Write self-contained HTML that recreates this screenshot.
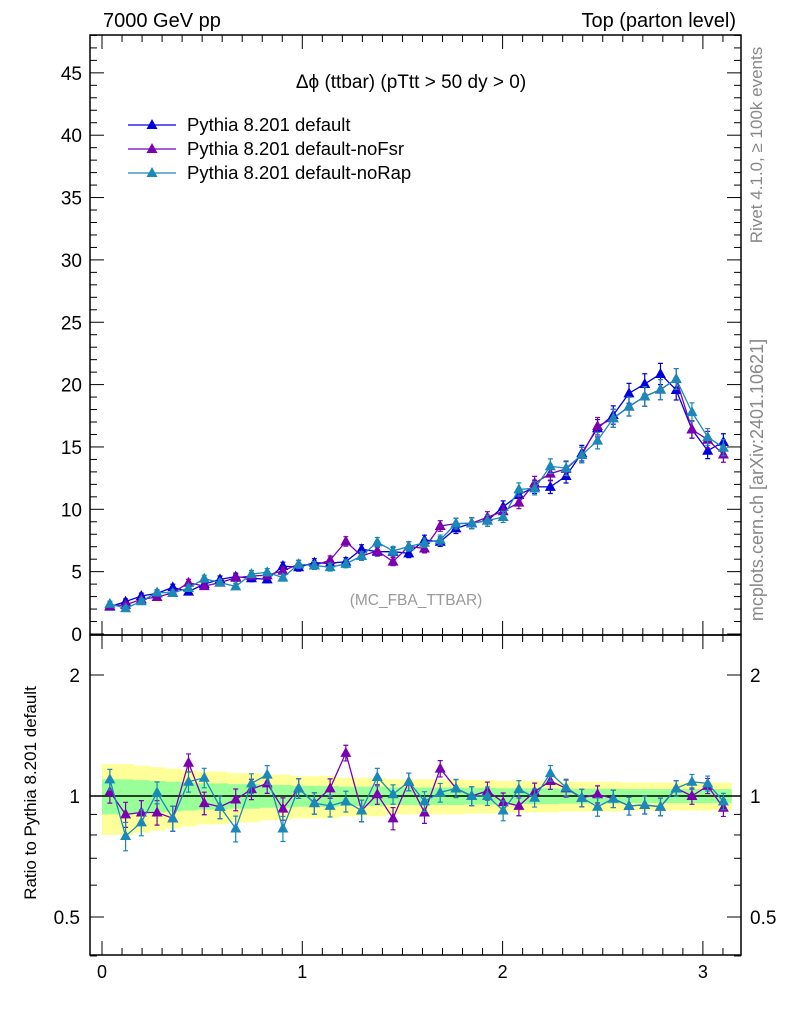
<!DOCTYPE html>
<html><head><meta charset="utf-8"><style>
html,body{margin:0;padding:0;background:#fff;}
svg{display:block;font-family:"Liberation Sans",sans-serif;}
</style></head><body>
<svg id="chart" width="786" height="1024" viewBox="0 0 786 1024" xmlns="http://www.w3.org/2000/svg">
<text x="103" y="27" font-size="20">7000 GeV pp</text>
<text x="736" y="27" font-size="20" text-anchor="end">Top (parton level)</text>
<text transform="translate(762,145) rotate(-90)" font-size="17" fill="#888" text-anchor="middle">Rivet 4.1.0, ≥ 100k events</text>
<text transform="translate(763,480) rotate(-90)" font-size="18" fill="#888" text-anchor="middle">mcplots.cern.ch [arXiv:2401.10621]</text>
<text x="411" y="88" font-size="19" text-anchor="middle">Δϕ (ttbar) (pTtt &gt; 50 dy &gt; 0)</text>
<text x="416" y="605" font-size="15.5" fill="#999" text-anchor="middle">(MC_FBA_TTBAR)</text>
<text transform="translate(36,793) rotate(-90)" font-size="17" text-anchor="middle">Ratio to Pythia 8.201 default</text>
<g id="bands"></g>
<g id="axes"></g>
<g id="marks"></g>
<g id="legend"></g>
</svg>
<script>
const defaultVals=[2.2,2.6,3.05,3.26,3.74,3.4,4.0,4.38,4.6,4.47,4.38,5.45,5.35,5.72,5.67,5.8,6.8,6.6,6.6,6.47,7.54,7.4,8.47,8.88,9.09,10.2,11.15,11.8,11.8,12.67,14.5,16.5,17.56,19.3,20.05,20.85,19.57,16.4,14.7,15.4];
const ratioNoFsr=[1.025,0.9,0.91,0.91,0.88,1.21,0.96,0.94,0.98,1.04,1.075,0.93,1.045,0.96,1.045,1.28,0.92,1.01,0.88,1.085,0.91,1.17,1.045,1.0,1.03,0.965,0.945,1.025,1.09,1.045,0.99,1.01,0.985,0.945,0.95,0.94,1.045,1.0,1.06,0.935];
const ratioNoRap=[1.1,0.795,0.86,1.02,0.88,1.085,1.11,0.94,0.83,1.075,1.13,0.83,1.045,0.96,0.945,0.97,0.92,1.115,1.01,1.085,0.97,1.02,1.045,1.0,1.0,0.92,1.04,0.99,1.14,1.05,0.99,0.94,0.985,0.945,0.95,0.94,1.045,1.085,1.075,0.97];
const yellowHalf=[0.2,0.2,0.19,0.18,0.17,0.16,0.15,0.15,0.14,0.14,0.13,0.13,0.12,0.12,0.12,0.11,0.11,0.11,0.1,0.1,0.1,0.1,0.1,0.095,0.095,0.09,0.09,0.09,0.09,0.085,0.085,0.085,0.085,0.08,0.08,0.08,0.08,0.08,0.08,0.08];
const greenHalf=[0.1,0.1,0.095,0.09,0.085,0.08,0.075,0.075,0.07,0.07,0.065,0.065,0.06,0.06,0.06,0.055,0.055,0.055,0.05,0.05,0.05,0.05,0.05,0.048,0.048,0.045,0.045,0.045,0.045,0.043,0.043,0.043,0.043,0.04,0.04,0.04,0.04,0.04,0.04,0.04];
const xTickLabels=["0","1","2","3"];
const yTickLabels=["0","5","10","15","20","25","30","35","40","45"];
const ratioTickLabels=["0.5","1","2"];

const NS="http://www.w3.org/2000/svg";
const L=90,R=741,T=35,MB=635,RB=955;
const nb=defaultVals.length, binW=Math.PI/nb;
const sx=v=>102+v*200.3;
const sy=v=>634-v*12.47;
const sr=r=>796-Math.log2(r)*121;
function mk(tag,attrs,parent){const e=document.createElementNS(NS,tag);for(const k in attrs)e.setAttribute(k,attrs[k]);parent.appendChild(e);return e;}
const bands=document.getElementById('bands'),axes=document.getElementById('axes'),marks=document.getElementById('marks'),legend=document.getElementById('legend');

for(let i=0;i<nb;i++){
  const x0=sx(i*binW),x1=sx((i+1)*binW)+0.5;
  let e=mk('rect',{x:x0,y:sr(1+yellowHalf[i]),width:x1-x0,height:sr(1-yellowHalf[i])-sr(1+yellowHalf[i]),fill:'#ffff99'},bands);
  
  
}
for(let i=0;i<nb;i++){
  const x0=sx(i*binW),x1=sx((i+1)*binW)+0.5;
  let e=mk('rect',{x:x0,y:sr(1+greenHalf[i]),width:x1-x0,height:sr(1-greenHalf[i])-sr(1+greenHalf[i]),fill:'#99ff99'},bands);
  
  
}
let ref=mk('line',{x1:L,x2:R,y1:sr(1),y2:sr(1),stroke:'#000','stroke-width':1.5},bands);



let f1=mk('rect',{x:L,y:T,width:R-L,height:MB-T,fill:'none',stroke:'#000','stroke-width':1.5},axes);


let f2=mk('rect',{x:L,y:MB,width:R-L,height:RB-MB,fill:'none',stroke:'#000','stroke-width':1.5},axes);



for(let k=0;k<=31;k++){
  const v=k/10,x=sx(v);
  const len=(k%10===0)?14:7;
  for(const [yb,dir] of [[MB,-1],[T,1],[RB,-1],[MB,1]]){
    let t=mk('line',{x1:x,x2:x,y1:yb,y2:yb+dir*len,stroke:'#000','stroke-width':1},axes);
    
    
  }
}
xTickLabels.forEach((s,i)=>{
  let t=mk('text',{x:sx(+s),y:978,'font-size':18,'text-anchor':'middle'},axes);t.textContent=s;
  
  
});
for(let v=0;v<=48;v++){
  const y=sy(v);if(y<T)break;
  const len=(v%5===0)?14:7;
  let t=mk('line',{x1:L,x2:L+len,y1:y,y2:y,stroke:'#000','stroke-width':1},axes);
  
  
  let t2=mk('line',{x1:R,x2:R-len,y1:y,y2:y,stroke:'#000','stroke-width':1},axes);
  
  
}
yTickLabels.forEach(s=>{
  let t=mk('text',{x:82,y:sy(+s)+7,'font-size':19,'text-anchor':'end'},axes);t.textContent=s;
  
  
});
[0.4,0.5,0.6,0.7,0.8,0.9,1,2].forEach(r=>{
  const y=sr(r);const len=(r===0.5||r===1||r===2)?14:7;
  let t=mk('line',{x1:L,x2:L+len,y1:y,y2:y,stroke:'#000','stroke-width':1},axes);
  
  
  let t2=mk('line',{x1:R,x2:R-len,y1:y,y2:y,stroke:'#000','stroke-width':1},axes);
  
  
});
ratioTickLabels.forEach(s=>{
  let t=mk('text',{x:80,y:sr(+s)+7,'font-size':19,'text-anchor':'end'},axes);t.textContent=s;
  
  
  let t2=mk('text',{x:750,y:sr(+s)+7,'font-size':19,'text-anchor':'start'},axes);t2.textContent=s;
  
  
});

function tri(x,y,c,parent,name){
  let p=mk('path',{d:`M${x},${y-6}L${x+5.5},${y+4}L${x-5.5},${y+4}Z`,fill:c},parent);
  
  
}
function series(vals,ratios,color,name){
  const g=mk('g',{},marks);
  
  
  const pts=vals.map((v,i)=>[sx((i+0.5)*binW),sy(v)]);
  let pl=mk('polyline',{points:pts.map(p=>p.join(',')).join(' '),fill:'none',stroke:color,'stroke-width':1.3},g);
  
  
  const rp=ratios.map((r,i)=>[sx((i+0.5)*binW),sr(r)]);
  if(name!=='default'){
    let rl=mk('polyline',{points:rp.map(p=>p.join(',')).join(' '),fill:'none',stroke:color,'stroke-width':1.3},g);
    
    
  }
  vals.forEach((v,i)=>{
    const x=pts[i][0],e=0.035*v+0.12;
    const y1=sy(v+e),y2=sy(v-e);
    let eb=mk('path',{d:`M${x},${y1}V${y2}M${x-2.5},${y1}H${x+2.5}M${x-2.5},${y2}H${x+2.5}`,stroke:color,'stroke-width':1.2,fill:'none'},g);
    
    
    tri(x,pts[i][1],color,g,name+'-point');
    if(name!=='default'){
      const r=ratios[i],re=0.045+0.02*(1-i/nb);
      const ry1=sr(r+re),ry2=sr(r-re);
      let reb=mk('path',{d:`M${x},${ry1}V${ry2}M${x-2.5},${ry1}H${x+2.5}M${x-2.5},${ry2}H${x+2.5}`,stroke:color,'stroke-width':1.2,fill:'none'},g);
      
      
      tri(x,rp[i][1],color,g,name+'-ratio-point');
    }
  });
}
const noFsrVals=defaultVals.map((v,i)=>v*ratioNoFsr[i]);
const noRapVals=defaultVals.map((v,i)=>v*ratioNoRap[i]);
series(defaultVals,defaultVals.map(()=>1),'#0000dd','default');
series(noFsrVals,ratioNoFsr,'#7a00b0','nofsr');
series(noRapVals,ratioNoRap,'#1a88b8','norap');

const legItems=[["Pythia 8.201 default",'#0000dd'],["Pythia 8.201 default-noFsr",'#7a00b0'],["Pythia 8.201 default-noRap",'#1a88b8']];
legItems.forEach((it,i)=>{
  const y=125+i*24;
  const g=mk('g',{},legend);
  
  
  mk('line',{x1:128,x2:176,y1:y,y2:y,stroke:it[1],'stroke-width':1.3},g);
  tri(152,y,it[1],g,'legend-marker');
  const t=mk('text',{x:187,y:y+6,'font-size':18.5},g);t.textContent=it[0];
  
  
});
</script>
</body></html>
